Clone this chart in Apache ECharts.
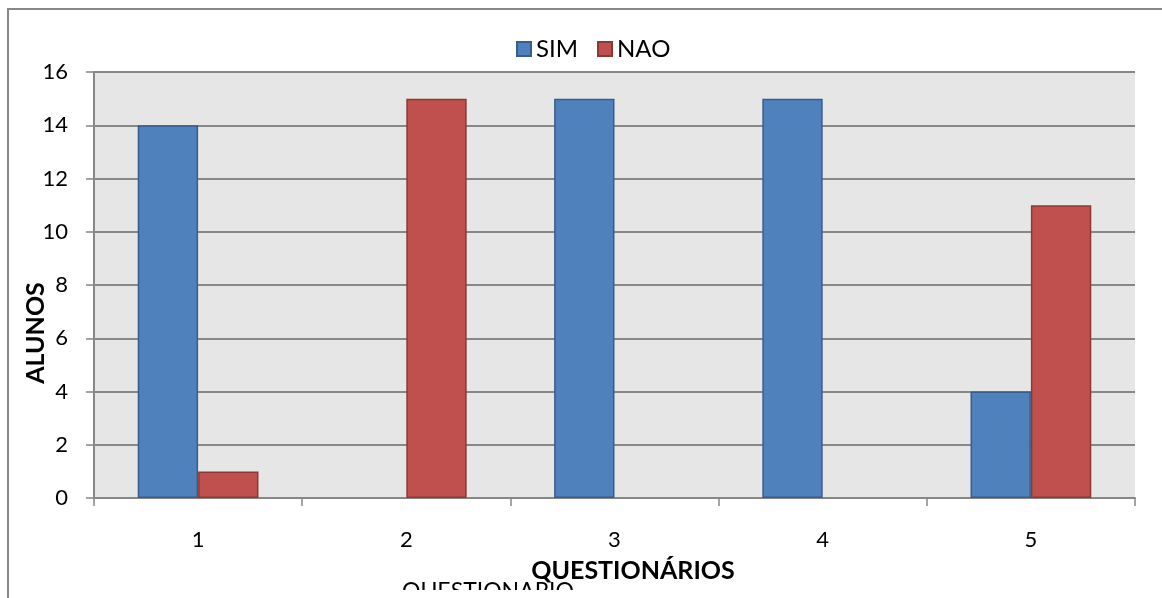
<!DOCTYPE html>
<html>
<head>
<meta charset="utf-8">
<style>
  html, body { margin: 0; padding: 0; background: #ffffff; }
  #chart { width: 1162px; height: 598px; }
</style>
<script src="https://cdn.jsdelivr.net/npm/echarts@6/dist/echarts.min.js"></script>
</head>
<body>
<div id="chart"></div>
<script>
// Questionnaire answers per question (null = no bar for that answer)
const categories = ['1', '2', '3', '4', '5'];
const simValues = [14, null, 15, 15, 4];
const naoValues = [1, 15, null, null, 11];
const seriesNames = ['SIM', 'NAO'];

const FONT = 'Lato, "Open Sans", sans-serif';

const chart = echarts.init(document.getElementById('chart'), null, { renderer: 'canvas' });

chart.setOption({
  animation: false,
  backgroundColor: '#ffffff',
  textStyle: { fontFamily: FONT },
  legend: {
    data: seriesNames.map(n => ({ name: n, icon: 'rect' })),
    top: 32,
    left: 511,
    itemWidth: 14,
    itemHeight: 14,
    itemGap: 19,
    textStyle: { fontSize: 24, color: '#000', fontFamily: FONT }
  },
  grid: { left: 94, right: 27, top: 72, bottom: 100, containLabel: false,
          show: true, backgroundColor: '#e6e6e6', borderWidth: 0 },
  xAxis: {
    type: 'category',
    data: categories,
    axisLine: { show: true, lineStyle: { color: '#878787', width: 2 } },
    axisTick: { show: true, length: 8, lineStyle: { color: '#878787', width: 1.5 } },
    axisLabel: { fontSize: 22, color: '#000', margin: 31, fontFamily: FONT }
  },
  yAxis: {
    type: 'value',
    min: 0,
    max: 16,
    interval: 2,
    axisLine: { show: true, lineStyle: { color: '#878787', width: 2 } },
    axisTick: { show: true, length: 8, lineStyle: { color: '#878787', width: 1.5 } },
    axisLabel: { fontSize: 22, color: '#000', margin: 26, fontFamily: FONT },
    splitLine: { show: true, lineStyle: { color: '#878787', width: 2 } }
  },
  series: [
    {
      name: seriesNames[0],
      type: 'bar',
      data: simValues,
      barGap: '0%',
      barCategoryGap: '42%',
      itemStyle: { color: '#4f81bd', borderColor: '#385d8a', borderWidth: 1.5 }
    },
    {
      name: seriesNames[1],
      type: 'bar',
      data: naoValues,
      barGap: '0%',
      barCategoryGap: '42%',
      itemStyle: { color: '#c0504d', borderColor: '#8c3836', borderWidth: 1.5 }
    }
  ],
  graphic: [
    {
      // outer frame, open at the right and bottom edges
      type: 'rect',
      silent: true,
      shape: { x: 8, y: 9, width: 1300, height: 800 },
      style: { fill: null, stroke: '#878787', lineWidth: 2 },
      z: 100
    },
    {
      type: 'text',
      rotation: Math.PI / 2,
      x: 23,
      y: 333,
      style: {
        text: 'ALUNOS',
        font: 'bold 25px ' + FONT,
        fill: '#000',
        textAlign: 'center',
        textVerticalAlign: 'top'
      }
    },
    {
      type: 'text',
      x: 633,
      y: 571,
      style: {
        text: 'QUESTIONÁRIOS',
        font: 'bold 25px ' + FONT,
        fill: '#000',
        textAlign: 'center',
        textVerticalAlign: 'middle'
      }
    },
    {
      // second caption line, mostly below the bottom edge
      type: 'text',
      x: 488,
      y: 580,
      style: {
        text: 'QUESTIONARIO',
        font: '23px ' + FONT,
        fill: '#000',
        textAlign: 'center',
        textVerticalAlign: 'top'
      }
    },
    {
      type: 'rect',
      silent: true,
      shape: { x: 380, y: 590, width: 220, height: 10 },
      style: { fill: '#ffffff' },
      z: 99
    }
  ]
});
</script>
</body>
</html>
